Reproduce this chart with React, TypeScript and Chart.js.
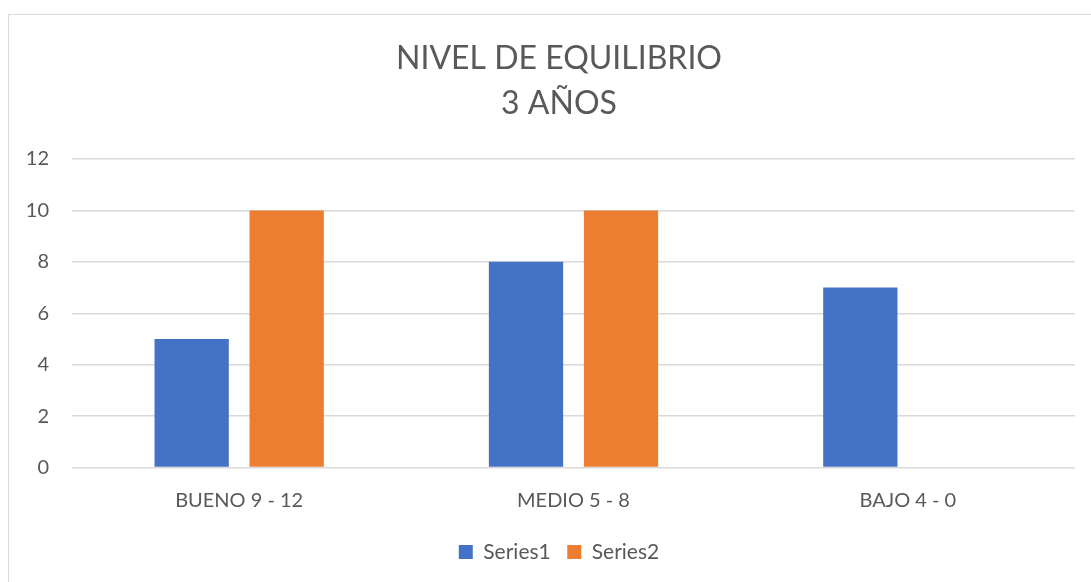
import React, { useEffect, useRef } from "react";
import { Chart, registerables } from "chart.js";

Chart.register(...registerables);

const categories = ["BUENO 9 - 12", "MEDIO 5 - 8", "BAJO 4 - 0"];
const series1 = [5, 8, 7];
const series2 = [10, 10, 0];
const seriesNames = ["Series1", "Series2"];
const titleLines = ["NIVEL DE EQUILIBRIO", "3 AÑOS"];
const yMin = 0;
const yMax = 12;
const yStep = 2;

const FONT = "Lato, 'Open Sans', sans-serif";
const TEXT = "#595959";
const GRID = "#d9d9d9";

const labelRoom = {
  id: "labelRoom",
  afterLayout(chart: any) {
    const y = chart.scales.y;
    if (y) y.left = 0;
  },
};

export default function App() {
  const ref = useRef<HTMLCanvasElement | null>(null);

  useEffect(() => {
    if (!ref.current) return;
    const chart = new Chart(ref.current, {
      type: "bar",
      data: {
        labels: categories,
        datasets: [
          {
            label: seriesNames[0],
            data: series1,
            backgroundColor: "#4472C4",
            categoryPercentage: 0.5683,
            barPercentage: 0.782,
          },
          {
            label: seriesNames[1],
            data: series2,
            backgroundColor: "#ED7D31",
            categoryPercentage: 0.5683,
            barPercentage: 0.782,
          },
        ],
      },
      plugins: [labelRoom],
      options: {
        responsive: false,
        animation: false,
        layout: { padding: { left: 34, right: 34, top: 0, bottom: 9.5 } },
        plugins: {
          title: {
            display: true,
            text: titleLines,
            color: TEXT,
            font: { family: FONT, size: 32, weight: "normal", lineHeight: 1.4 },
            padding: { top: 21, bottom: 33.4 },
          },
          legend: {
            position: "bottom",
            labels: {
              color: TEXT,
              font: { family: FONT, size: 21 },
              boxWidth: 14,
              boxHeight: 14,
              padding: 16.5,
            },
          },
          tooltip: { enabled: false },
        },
        scales: {
          x: {
            grid: { display: false, drawTicks: false },
            border: { display: false },
            ticks: {
              color: TEXT,
              font: { family: FONT, size: 20 },
              padding: 20.7,
            },
            afterFit: (s: any) => {
              s.height = 57.5;
            },
          },
          y: {
            min: yMin,
            max: yMax,
            grid: { color: GRID, lineWidth: 1.5, drawTicks: false },
            border: { display: false },
            ticks: {
              stepSize: yStep,
              color: TEXT,
              font: { family: FONT, size: 20 },
              padding: 23,
            },
            afterFit: (s: any) => {
              s.width = 29;
            },
          },
        },
      },
    });
    return () => chart.destroy();
  }, []);

  return (
    <div style={{ position: "fixed", inset: 0, overflow: "hidden", background: "#fff" }}>
      <div
        style={{
          position: "absolute",
          left: 8,
          top: 14,
          width: 1200,
          height: 700,
          border: "1px solid " + GRID,
          boxSizing: "border-box",
        }}
      />
      <canvas
        ref={ref}
        width={1100}
        height={567}
        style={{ position: "absolute", left: 9, top: 15, width: 1100, height: 567 }}
      />
    </div>
  );
}
